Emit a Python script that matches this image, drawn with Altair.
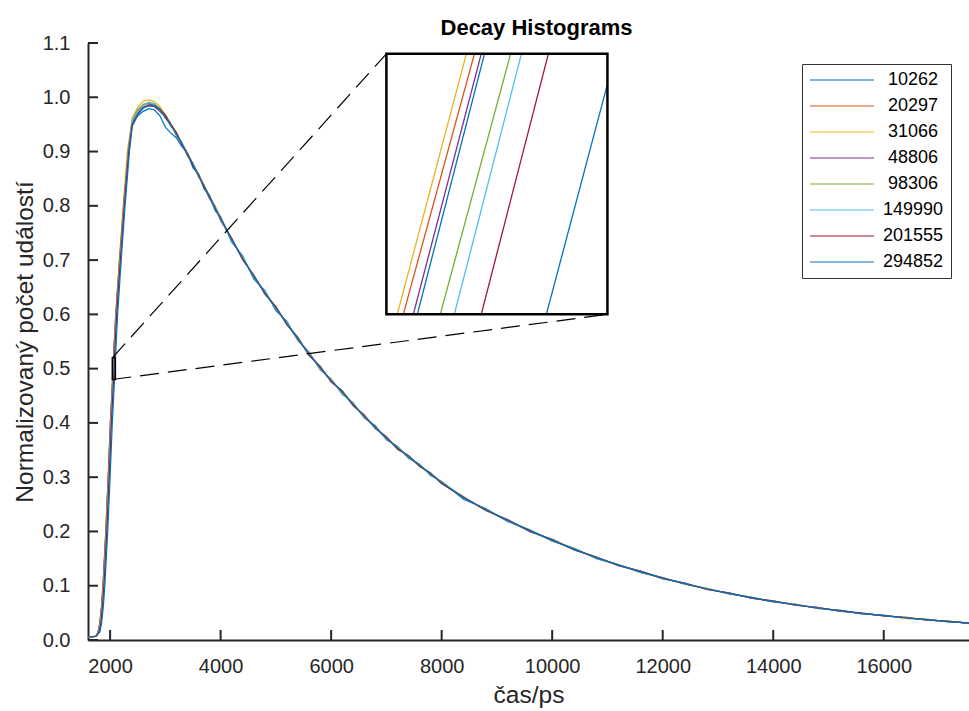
import altair as alt
import pandas as pd

# ---------------- data ----------------
SERIES = ["10262", "20297", "31066", "48806", "98306", "149990", "201555", "294852"]
COLORS = ["#0072BD", "#D95319", "#EDB120", "#7E2F8E", "#77AC30", "#4DBEEE", "#A2142F", "#0072BD"]

# flat baseline before the rise (ps, normalised counts)
BASE_T = [1600, 1650, 1700, 1740, 1760]
BASE_V = [0.006, 0.006, 0.006, 0.007, 0.009]

# rising edge: time (ps) at which each series reaches these levels
RISE_LEVELS = [0.015, 0.03, 0.06, 0.1, 0.2, 0.3, 0.4, 0.48, 0.52, 0.6, 0.7, 0.8, 0.9]
RISE_T = {
    "10262":  [1786, 1816, 1846, 1874, 1925, 1968, 2008, 2047.7, 2064.4, 2106, 2175, 2250, 2332],
    "20297":  [1783, 1813, 1843, 1871, 1922, 1965, 2005, 2044.2, 2061.9, 2103, 2170, 2242, 2322],
    "31066":  [1781, 1811, 1841, 1869, 1920, 1963, 2003, 2042.7, 2059.9, 2100, 2166, 2236, 2313],
    "48806":  [1785, 1815, 1845, 1873, 1924, 1967, 2007, 2046.7, 2063.6, 2105, 2173, 2246, 2327],
    "98306":  [1791, 1821, 1851, 1879, 1930, 1974, 2014, 2053.4, 2070.9, 2111, 2178, 2251, 2330],
    "149990": [1795, 1825, 1855, 1883, 1934, 1977, 2017, 2056.9, 2073.6, 2114, 2181, 2254, 2332],
    "201555": [1801, 1831, 1861, 1889, 1941, 1984, 2024, 2063.6, 2080.3, 2120, 2187, 2259, 2338],
    "294852": [1815, 1845, 1876, 1905, 1957, 2000, 2040, 2079.8, 2097.0, 2136, 2201, 2271, 2350],
}

# peak and decay: common time grid (ps)
GRID_T = [2400, 2500, 2600, 2700, 2800, 2900, 3000, 3100, 3200, 3300, 3400, 3500, 3600, 3700, 3800, 3900, 4000,
          4200, 4400, 4600, 4800, 5000, 5200, 5400, 5600, 5800, 6000, 6200, 6400, 6600, 6800, 7000, 7200, 7400,
          7600, 7800, 8000,
          8400, 8800, 9200, 9600, 10000, 10400, 10800, 11200, 11600, 12000, 12400, 12800, 13200, 13600, 14000,
          14400, 14800, 15200, 15600, 16000, 16400, 16800, 17200, 17543]

DECAY_V = {
    "10262": [0.948, 0.966, 0.974, 0.979, 0.977, 0.966, 0.945, 0.934, 0.925, 0.909, 0.897, 0.870, 0.859, 0.831, 0.820, 0.791, 0.780,
              0.733, 0.708, 0.665, 0.644, 0.607, 0.587, 0.551, 0.531, 0.498, 0.481, 0.453, 0.437, 0.409, 0.395, 0.369, 0.357, 0.335, 0.324, 0.303, 0.292,
              0.259, 0.242, 0.218, 0.203, 0.182, 0.169, 0.150, 0.139, 0.124, 0.115, 0.103, 0.095, 0.085, 0.079, 0.070, 0.066, 0.058, 0.055, 0.048, 0.046, 0.040, 0.038, 0.033, 0.032],
    "20297": [0.958, 0.978, 0.985, 0.989, 0.984, 0.980, 0.961, 0.951, 0.929, 0.917, 0.891, 0.879, 0.853, 0.839, 0.813, 0.800, 0.773,
              0.741, 0.700, 0.673, 0.637, 0.615, 0.580, 0.558, 0.524, 0.505, 0.475, 0.460, 0.431, 0.415, 0.389, 0.375, 0.351, 0.340, 0.319, 0.308, 0.288,
              0.264, 0.238, 0.222, 0.199, 0.186, 0.166, 0.153, 0.137, 0.127, 0.113, 0.105, 0.093, 0.087, 0.077, 0.072, 0.064, 0.060, 0.053, 0.050, 0.044, 0.042, 0.036, 0.035, 0.030],
    "31066": [0.962, 0.982, 0.993, 0.995, 0.992, 0.983, 0.968, 0.951, 0.936, 0.915, 0.898, 0.877, 0.859, 0.838, 0.818, 0.799, 0.779,
              0.736, 0.706, 0.668, 0.642, 0.610, 0.585, 0.553, 0.529, 0.500, 0.480, 0.455, 0.436, 0.410, 0.393, 0.371, 0.355, 0.337, 0.323, 0.305, 0.291,
              0.261, 0.241, 0.219, 0.202, 0.183, 0.168, 0.151, 0.139, 0.125, 0.115, 0.103, 0.095, 0.085, 0.079, 0.070, 0.066, 0.058, 0.055, 0.048, 0.046, 0.040, 0.038, 0.033, 0.032],
    "48806": [0.952, 0.971, 0.981, 0.984, 0.983, 0.974, 0.964, 0.947, 0.934, 0.912, 0.894, 0.874, 0.857, 0.834, 0.814, 0.795, 0.774,
              0.739, 0.702, 0.671, 0.639, 0.613, 0.582, 0.556, 0.525, 0.503, 0.477, 0.458, 0.433, 0.413, 0.391, 0.373, 0.353, 0.339, 0.321, 0.307, 0.289,
              0.263, 0.239, 0.221, 0.200, 0.185, 0.166, 0.153, 0.137, 0.127, 0.113, 0.105, 0.093, 0.087, 0.077, 0.072, 0.064, 0.060, 0.053, 0.049, 0.045, 0.041, 0.037, 0.034, 0.031],
    "98306": [0.957, 0.977, 0.987, 0.990, 0.988, 0.979, 0.965, 0.950, 0.933, 0.915, 0.896, 0.877, 0.855, 0.837, 0.817, 0.796, 0.777,
              0.737, 0.704, 0.669, 0.641, 0.611, 0.584, 0.554, 0.528, 0.501, 0.479, 0.456, 0.435, 0.411, 0.393, 0.371, 0.355, 0.337, 0.323, 0.305, 0.291,
              0.262, 0.240, 0.220, 0.201, 0.184, 0.168, 0.151, 0.138, 0.126, 0.114, 0.104, 0.094, 0.086, 0.078, 0.071, 0.065, 0.059, 0.054, 0.049, 0.045, 0.041, 0.037, 0.034, 0.031],
    "149990": [0.955, 0.974, 0.985, 0.991, 0.988, 0.978, 0.964, 0.950, 0.931, 0.915, 0.894, 0.877, 0.855, 0.837, 0.815, 0.798, 0.775,
               0.738, 0.704, 0.669, 0.641, 0.611, 0.584, 0.556, 0.526, 0.503, 0.477, 0.458, 0.433, 0.413, 0.391, 0.373, 0.353, 0.339, 0.321, 0.307, 0.289,
               0.262, 0.240, 0.220, 0.201, 0.184, 0.167, 0.152, 0.138, 0.126, 0.114, 0.104, 0.094, 0.086, 0.078, 0.071, 0.065, 0.059, 0.054, 0.049, 0.045, 0.041, 0.037, 0.034, 0.031],
    "201555": [0.950, 0.969, 0.981, 0.986, 0.985, 0.978, 0.967, 0.950, 0.934, 0.914, 0.896, 0.875, 0.857, 0.835, 0.817, 0.796, 0.777,
               0.739, 0.702, 0.671, 0.639, 0.613, 0.582, 0.556, 0.526, 0.503, 0.477, 0.458, 0.433, 0.413, 0.391, 0.373, 0.353, 0.339, 0.321, 0.307, 0.289,
               0.262, 0.240, 0.220, 0.201, 0.184, 0.167, 0.152, 0.138, 0.126, 0.114, 0.104, 0.094, 0.086, 0.078, 0.071, 0.065, 0.059, 0.054, 0.049, 0.045, 0.041, 0.037, 0.034, 0.031],
    "294852": [0.946, 0.968, 0.980, 0.985, 0.985, 0.977, 0.963, 0.949, 0.932, 0.914, 0.895, 0.876, 0.856, 0.836, 0.816, 0.796, 0.776,
               0.738, 0.703, 0.670, 0.640, 0.612, 0.583, 0.555, 0.527, 0.502, 0.478, 0.457, 0.434, 0.412, 0.392, 0.372, 0.354, 0.338, 0.322, 0.306, 0.290,
               0.262, 0.240, 0.220, 0.201, 0.184, 0.167, 0.152, 0.138, 0.126, 0.114, 0.104, 0.094, 0.086, 0.078, 0.071, 0.065, 0.059, 0.054, 0.049, 0.045, 0.041, 0.037, 0.034, 0.031],
}

X_TICKS = [2000, 4000, 6000, 8000, 10000, 12000, 14000, 16000]
Y_TICKS = [0.0, 0.1, 0.2, 0.3, 0.4, 0.5, 0.6, 0.7, 0.8, 0.9, 1.0, 1.1]
X_DOMAIN = [1600, 17543]
Y_DOMAIN = [0.0, 1.1]

ZOOM_X = [2040, 2095]      # region shown magnified
ZOOM_Y = [0.48, 0.52]
INSET_X = [7000, 11000]    # where the magnified view is placed (main data units)
INSET_Y = [0.6, 1.08]

TITLE = "Decay Histograms"
X_TITLE = "čas/ps"
Y_TITLE = "Normalizovaný počet událostí"

# ---------------- tables ----------------
rows = []
for s in SERIES:
    for t, v in zip(BASE_T, BASE_V):
        rows.append({"series": s, "t": t, "v": v})
    for t, v in zip(RISE_T[s], RISE_LEVELS):
        rows.append({"series": s, "t": t, "v": v})
    for t, v in zip(GRID_T, DECAY_V[s]):
        rows.append({"series": s, "t": t, "v": v})
df = pd.DataFrame(rows)

i_lo = RISE_LEVELS.index(ZOOM_Y[0])
i_hi = RISE_LEVELS.index(ZOOM_Y[1])


def to_inset_x(t):
    return INSET_X[0] + (t - ZOOM_X[0]) / (ZOOM_X[1] - ZOOM_X[0]) * (INSET_X[1] - INSET_X[0])


def to_inset_y(v):
    return INSET_Y[0] + (v - ZOOM_Y[0]) / (ZOOM_Y[1] - ZOOM_Y[0]) * (INSET_Y[1] - INSET_Y[0])


inset_rows = []
for s, c in zip(SERIES, COLORS):
    ta, tb = RISE_T[s][i_lo], RISE_T[s][i_hi]
    va, vb = ZOOM_Y[0], ZOOM_Y[1]
    tb_c = min(tb, ZOOM_X[1])
    vb_c = va + (tb_c - ta) / (tb - ta) * (vb - va)
    inset_rows.append({"series": s, "col": c,
                       "t": to_inset_x(ta), "v": to_inset_y(va),
                       "t2": to_inset_x(tb_c), "v2": to_inset_y(vb_c)})
df_inset = pd.DataFrame(inset_rows)

df_zoom = pd.DataFrame([{"t": ZOOM_X[0], "t2": ZOOM_X[1], "v": ZOOM_Y[0], "v2": ZOOM_Y[1]}])
df_box = pd.DataFrame([{"t": INSET_X[0], "t2": INSET_X[1], "v": INSET_Y[0], "v2": INSET_Y[1]}])
df_conn = pd.DataFrame([
    {"t": ZOOM_X[0], "v": ZOOM_Y[1], "t2": INSET_X[0], "v2": INSET_Y[1]},
    {"t": ZOOM_X[0], "v": ZOOM_Y[0], "t2": INSET_X[1], "v2": INSET_Y[0]},
])
df_xt = pd.DataFrame({"t": X_TICKS})
df_yt = pd.DataFrame({"v": Y_TICKS})

# ---------------- chart ----------------
FONT = "Liberation Sans"
INK = "#262626"
W, H = 881, 597

xs = alt.Scale(domain=X_DOMAIN, nice=False, zero=False)
ys = alt.Scale(domain=Y_DOMAIN, nice=False, zero=False)

x_axis = alt.Axis(values=X_TICKS, format="d", ticks=False, grid=False, labelPadding=16,
                  labelFontSize=20, labelFont=FONT, labelColor=INK, labelFlush=False, labelOverlap=False,
                  domainColor=INK, domainWidth=2, title=X_TITLE, titleFont=FONT, titleFontSize=24.5,
                  titleFontWeight="normal", titleColor=INK, titleBaseline="alphabetic", titleY=62)
y_axis = alt.Axis(values=Y_TICKS, format=".1f", ticks=False, grid=False, labelPadding=18,
                  labelFontSize=20, labelFont=FONT, labelColor=INK, labelFlush=False, labelOverlap=False,
                  domainColor=INK, domainWidth=2, title=Y_TITLE, titleFont=FONT, titleFontSize=24.5,
                  titleFontWeight="normal", titleColor=INK, titleAngle=270, titleAlign="center",
                  titleBaseline="alphabetic", titleX=-56, titleY=H / 2)


def X(field="t"):
    return alt.X(f"{field}:Q", scale=xs, axis=x_axis)


def Y(field="v"):
    return alt.Y(f"{field}:Q", scale=ys, axis=y_axis)


legend = alt.Legend(title=None, orient="none", legendX=714, legendY=21, symbolType="stroke",
                    symbolSize=4096, symbolStrokeWidth=1.2, clipHeight=18, rowPadding=8,
                    labelFontSize=18, labelFont=FONT, labelColor="black", labelAlign="center",
                    labelOffset=38, padding=7, fillColor="white", strokeColor="#333333")

lines = alt.Chart(df).mark_line(strokeWidth=1.2, clip=True).encode(
    x=X(), y=Y(),
    color=alt.Color("series:N", scale=alt.Scale(domain=SERIES, range=COLORS), legend=legend),
)

xticks = alt.Chart(df_xt).mark_rule(color=INK, strokeWidth=2).encode(
    x=X(), y=alt.value(H), y2=alt.value(H - 10))
yticks = alt.Chart(df_yt).mark_rule(color=INK, strokeWidth=2).encode(
    y=Y(), x=alt.value(0), x2=alt.value(10))

zoom_rect = alt.Chart(df_zoom).mark_rect(fillOpacity=0, stroke="black", strokeWidth=1.5).encode(
    x=X(), x2="t2:Q", y=Y(), y2="v2:Q")

connectors = alt.Chart(df_conn).mark_rule(color="black", strokeWidth=1.2, strokeDash=[19, 9]).encode(
    x=X(), x2="t2:Q", y=Y(), y2="v2:Q")

box_fill = alt.Chart(df_box).mark_rect(fill="white", strokeOpacity=0).encode(
    x=X(), x2="t2:Q", y=Y(), y2="v2:Q")

inset_lines = alt.Chart(df_inset).mark_rule(strokeWidth=1.3).encode(
    x=X(), x2="t2:Q", y=Y(), y2="v2:Q",
    stroke=alt.Stroke("col:N", scale=None))

box_border = alt.Chart(df_box).mark_rect(fillOpacity=0, stroke="black", strokeWidth=2.5).encode(
    x=X(), x2="t2:Q", y=Y(), y2="v2:Q")

chart = alt.layer(lines, xticks, yticks, connectors, zoom_rect, box_fill, inset_lines, box_border).properties(
    width=W, height=H,
    background="white",
    title=alt.Title(TITLE, fontSize=22, fontWeight="bold", font=FONT, color="black",
                    frame="group", anchor="middle", offset=0, baseline="alphabetic", dx=8, dy=24),
    autosize=alt.AutoSizeParams(type="none"),
    padding={"left": 88, "top": 43, "right": 0, "bottom": 71},
).configure_view(stroke="transparent", strokeWidth=0)

chart.save("out.html", embed_options={"renderer": "svg", "actions": False})
